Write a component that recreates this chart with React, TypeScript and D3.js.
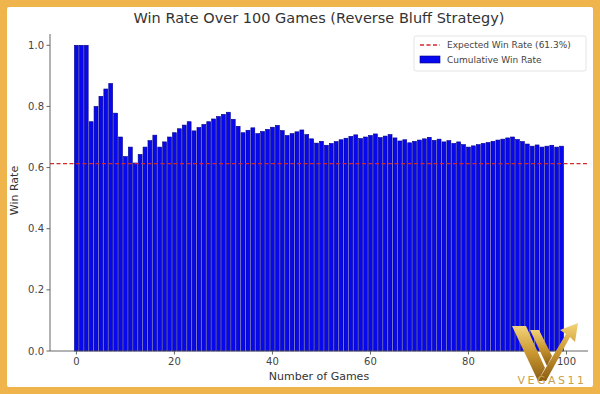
import React from 'react';
import * as d3 from 'd3';

// cumulative win rate after each game, games 1..100
const winRate: number[] = [
  1.0, 1.0, 1.0, 0.75, 0.8, 0.833, 0.857, 0.875, 0.778, 0.7,
  0.636, 0.667, 0.615, 0.643, 0.667, 0.688, 0.706, 0.667, 0.684, 0.7,
  0.714, 0.727, 0.739, 0.75, 0.72, 0.731, 0.741, 0.75, 0.759, 0.767,
  0.774, 0.781, 0.758, 0.735, 0.714, 0.722, 0.73, 0.711, 0.718, 0.725,
  0.732, 0.738, 0.721, 0.705, 0.711, 0.717, 0.723, 0.708, 0.694, 0.68,
  0.686, 0.673, 0.679, 0.685, 0.691, 0.696, 0.702, 0.707, 0.695, 0.7,
  0.705, 0.71, 0.698, 0.703, 0.708, 0.697, 0.687, 0.691, 0.681, 0.686,
  0.69, 0.694, 0.699, 0.689, 0.693, 0.684, 0.688, 0.679, 0.684, 0.675,
  0.667, 0.671, 0.675, 0.679, 0.682, 0.686, 0.69, 0.693, 0.697, 0.7,
  0.692, 0.685, 0.677, 0.67, 0.674, 0.667, 0.67, 0.673, 0.667, 0.67,
];
const expectedRate = 0.613;
const xTicks = [0, 20, 40, 60, 80, 100];
const yTicks = [0, 0.2, 0.4, 0.6, 0.8, 1.0];
const legendLabels = ['Expected Win Rate (61.3%)', 'Cumulative Win Rate'];

const W = 600;
const H = 394;
const font = 'DejaVu Sans, sans-serif';

export default function App() {
  const left = 50, right = 588, top = 30, bottom = 351;
  const x = d3.scaleLinear().domain([-5.39, 104.39]).range([left, right]);
  const y = d3.scaleLinear().domain([0, 1.05]).range([bottom, top]);
  const bw = x(0.8) - x(0);

  return (
    <svg width={W} height={H} style={{ position: 'absolute', left: 0, top: 0 }} fontFamily={font}>
      <defs>
        <linearGradient id="gold" x1="0" y1="0" x2="0" y2="1">
          <stop offset="0" stopColor="#f3d37a" />
          <stop offset="0.5" stopColor="#c9962f" />
          <stop offset="1" stopColor="#8a5d14" />
        </linearGradient>
      </defs>
      <rect x={0} y={0} width={W} height={H} fill="#efb54c" />
      <rect x={7} y={7} width={W - 14} height={H - 14} fill="#ffffff" rx={2} />

      <text x={(left + right) / 2} y={23} textAnchor="middle" fontSize={14.5} fill="#333">
        Win Rate Over 100 Games (Reverse Bluff Strategy)
      </text>

      {winRate.map((v, i) => (
        <rect key={i} x={x(i) - bw / 2} y={y(v)} width={bw} height={y(0) - y(v)}
          fill="#0808ee" stroke="#00008a" strokeWidth={0.6} />
      ))}

      <line x1={left} x2={right} y1={y(expectedRate)} y2={y(expectedRate)}
        stroke="#d62728" strokeWidth={1.3} strokeDasharray="4,2.5" />

      {/* axes */}
      <line x1={left} x2={left} y1={top + 4} y2={bottom} stroke="#555" strokeWidth={0.9} />
      <line x1={left} x2={right} y1={bottom} y2={bottom} stroke="#555" strokeWidth={0.9} />
      {yTicks.map(t => (
        <g key={t}>
          <line x1={left - 3.5} x2={left} y1={y(t)} y2={y(t)} stroke="#555" strokeWidth={0.9} />
          <text x={left - 6} y={y(t) + 3.5} textAnchor="end" fontSize={10} fill="#444">{t.toFixed(1)}</text>
        </g>
      ))}
      {xTicks.map(t => (
        <g key={t}>
          <line x1={x(t)} x2={x(t)} y1={bottom} y2={bottom + 3.5} stroke="#555" strokeWidth={0.9} />
          <text x={x(t)} y={bottom + 14} textAnchor="middle" fontSize={10} fill="#444">{t}</text>
        </g>
      ))}
      <text x={(left + right) / 2} y={380} textAnchor="middle" fontSize={11} fill="#333">Number of Games</text>
      <text transform={`translate(18,${(top + bottom) / 2}) rotate(-90)`} textAnchor="middle" fontSize={11} fill="#333">Win Rate</text>

      {/* legend */}
      <g transform="translate(414,36)">
        <rect x={0} y={0} width={172} height={35} rx={2} fill="#fff" stroke="#ddd" strokeWidth={0.8} />
        <line x1={6} x2={26} y1={9} y2={9} stroke="#d62728" strokeWidth={1.3} strokeDasharray="4,2.5" />
        <text x={33} y={12} fontSize={9} fill="#444">{legendLabels[0]}</text>
        <rect x={6} y={20} width={20} height={7} fill="#0808ee" stroke="#00008a" strokeWidth={0.6} />
        <text x={33} y={27} fontSize={9} fill="#444">{legendLabels[1]}</text>
      </g>

      {/* watermark */}
      <g fill="url(#gold)">
        <polygon points="512,326 526,326 545,368 538,381" />
        <polygon points="530,330 539,330 552,356 547,366" />
        <polygon points="538,381 566,334 560,330 578,323 575,342 570,337 546,381" />
      </g>
      <text x={552} y={384} textAnchor="middle" fontSize={11} letterSpacing={2.5} fill="#c9a04a">VEGAS11</text>
    </svg>
  );
}
